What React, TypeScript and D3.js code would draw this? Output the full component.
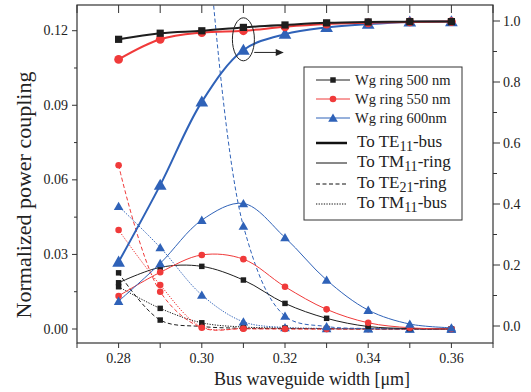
import React from "react";
import * as d3 from "d3";

// ---------- data ----------
const widths = [0.28, 0.29, 0.3, 0.31, 0.32, 0.33, 0.34, 0.35, 0.36];
const rings = ["Wg ring 500 nm", "Wg ring 550 nm", "Wg ring 600nm"];

// To TE11-bus (right axis)
const te11Bus500 = [0.94, 0.96, 0.968, 0.979, 0.987, 0.994, 0.997, 0.998, 0.998];
const te11Bus550 = [0.874, 0.94, 0.962, 0.968, 0.981, 0.99, 0.994, 0.997, 0.998];
const te11Bus600 = [0.21, 0.462, 0.735, 0.905, 0.957, 0.979, 0.99, 0.997, 0.998];

// To TM11-ring (left axis)
const tm11Ring500 = [0.0186, 0.0248, 0.0252, 0.0197, 0.0103, 0.0043, 0.001, 0.0002, 0.0];
const tm11Ring550 = [0.0133, 0.0228, 0.0298, 0.0281, 0.017, 0.0079, 0.0025, 0.0005, 0.0];
const tm11Ring600 = [0.0112, 0.0264, 0.0438, 0.0505, 0.0368, 0.0197, 0.0076, 0.002, 0.0005];

// To TE21-ring (left axis)
const te21Ring500 = [0.0226, 0.0036, 0.001, 0.0003, 0.0002, 0.0001, 0.0, 0.0, 0.0];
const te21Ring550 = [0.0659, 0.015, 0.0005, 0.0001, 0.0, 0.0, 0.0, 0.0, 0.0];
const te21Ring600 = [null, null, 0.19, 0.0414, 0.0052, 0.001, 0.0002, 0.0001, 0.0];

// To TM11-bus (left axis)
const tm11Bus500 = [0.017, 0.0083, 0.0025, 0.0008, 0.0004, 0.0002, 0.0001, 0.0, 0.0];
const tm11Bus550 = [0.0398, 0.0177, 0.0008, 0.0002, 0.0001, 0.0, 0.0, 0.0, 0.0];
const tm11Bus600 = [0.0494, 0.0328, 0.0137, 0.0029, 0.0006, 0.0002, 0.0001, 0.0, 0.0];

const xTicks = [0.28, 0.3, 0.32, 0.34, 0.36];
const xMinor = [0.27, 0.28, 0.29, 0.3, 0.31, 0.32, 0.33, 0.34, 0.35, 0.36, 0.37];
const yLeftTicks = [0.0, 0.03, 0.06, 0.09, 0.12];
const yLeftMinor = [0.015, 0.045, 0.075, 0.105];
const yRightTicks = [0.0, 0.2, 0.4, 0.6, 0.8, 1.0];
const yRightMinor = [0.1, 0.3, 0.5, 0.7, 0.9];

// ---------- style ----------
const W = 531;
const H = 392;
const M = { left: 77, right: 493, top: 5, bottom: 343 };
const colors = ["#1e1e1e", "#f03a3a", "#2f62b8"];
const symbols = [d3.symbolSquare, d3.symbolCircle, d3.symbolTriangle];
const FONT = "'Liberation Serif', 'Times New Roman', serif";

const x = d3.scaleLinear().domain([0.27, 0.37]).range([M.left, M.right]);
const yL = d3.scaleLinear().domain([-0.00563, 0.13034]).range([M.bottom, M.top]);
const yR = d3.scaleLinear().domain([-0.0557, 1.0525]).range([M.bottom, M.top]);

type Series = {
  values: (number | null)[];
  ring: number;
  kind: "te11" | "tm11r" | "te21" | "tm11b";
};

const series: Series[] = [
  { values: tm11Bus500, ring: 0, kind: "tm11b" },
  { values: tm11Bus550, ring: 1, kind: "tm11b" },
  { values: tm11Bus600, ring: 2, kind: "tm11b" },
  { values: te21Ring500, ring: 0, kind: "te21" },
  { values: te21Ring550, ring: 1, kind: "te21" },
  { values: te21Ring600, ring: 2, kind: "te21" },
  { values: tm11Ring500, ring: 0, kind: "tm11r" },
  { values: tm11Ring550, ring: 1, kind: "tm11r" },
  { values: tm11Ring600, ring: 2, kind: "tm11r" },
  { values: te11Bus600, ring: 2, kind: "te11" },
  { values: te11Bus550, ring: 1, kind: "te11" },
  { values: te11Bus500, ring: 0, kind: "te11" },
];

const dashFor = (k: string) =>
  k === "te21" ? "4,2.5" : k === "tm11b" ? "1.3,1.3" : undefined;
const widthFor = (k: string) => (k === "te11" ? 2 : 1);

function symbolPath(ring: number, big: boolean) {
  const sizes = big ? [52, 60, 70] : [30, 34, 40];
  return d3.symbol().type(symbols[ring]).size(sizes[ring])() as string;
}

const Sub = ({ base, sub, rest }: { base: string; sub: string; rest: string }) => (
  <>
    {base}
    <tspan dy={4} fontSize={14}>{sub}</tspan>
    <tspan dy={-4}>{rest}</tspan>
  </>
);

export default function App() {
  const lines = series.map((s, i) => {
    const yS = s.kind === "te11" ? yR : yL;
    const pts = widths
      .map((w, j) => [w, s.values[j]] as [number, number | null])
      .filter((p) => p[1] !== null) as [number, number][];
    const gen = d3
      .line<[number, number]>()
      .x((p) => x(p[0]))
      .y((p) => yS(p[1]))
      .curve(d3.curveCatmullRom.alpha(0.5));
    const big = s.kind === "te11";
    const sym = symbolPath(s.ring, big);
    return (
      <g key={i}>
        <path
          d={gen(pts) as string}
          fill="none"
          stroke={colors[s.ring]}
          strokeWidth={widthFor(s.kind)}
          strokeDasharray={dashFor(s.kind)}
        />
        {pts.map((p, j) => (
          <path
            key={j}
            d={sym}
            transform={`translate(${x(p[0])},${yS(p[1]) + (s.ring === 2 ? 1 : 0)})`}
            fill={colors[s.ring]}
          />
        ))}
      </g>
    );
  });

  const legX0 = 316;
  const legX1 = 350;
  const legRowsTop = [84, 103, 122];
  const legRowsBot = [147, 167, 188, 208];
  const styleRows = [
    { kind: "te11", label: <Sub base="To TE" sub="11" rest="-bus" /> },
    { kind: "tm11r", label: <Sub base="To TM" sub="11" rest="-ring" /> },
    { kind: "te21", label: <Sub base="To TE" sub="21" rest="-ring" /> },
    { kind: "tm11b", label: <Sub base="To TM" sub="11" rest="-bus" /> },
  ];

  const ex = x(0.31);
  const ey = yR(0.94);
  const ax0 = x(0.3126);
  const ax1 = x(0.3197);
  const ay = yR(0.897);

  return (
    <svg
      width={W}
      height={H}
      style={{ position: "absolute", left: 0, top: 0, background: "#fff" }}
      fontFamily={FONT}
    >
      <defs>
        <clipPath id="plotClip">
          <rect x={M.left} y={M.top} width={M.right - M.left} height={M.bottom - M.top} />
        </clipPath>
      </defs>
      <rect width={W} height={H} fill="#fff" />

      <g clipPath="url(#plotClip)">{lines}</g>

      {/* frame */}
      <rect
        x={M.left}
        y={M.top}
        width={M.right - M.left}
        height={M.bottom - M.top}
        fill="none"
        stroke="#333"
        strokeWidth={1.2}
      />

      {/* x ticks */}
      {xMinor.map((t, i) => (
        <g key={"xm" + i}>
          <line x1={x(t)} x2={x(t)} y1={M.top} y2={M.top + 8} stroke="#333" />
          <line x1={x(t)} x2={x(t)} y1={M.bottom} y2={M.bottom + 5} stroke="#333" />
        </g>
      ))}
      {xTicks.map((t, i) => (
        <text key={"xt" + i} x={x(t)} y={363} textAnchor="middle" fontSize={14} fill="#222">
          {t.toFixed(2)}
        </text>
      ))}

      {/* left ticks */}
      {yLeftTicks.map((t, i) => (
        <g key={"yl" + i}>
          <line x1={M.left - 5} x2={M.left} y1={yL(t)} y2={yL(t)} stroke="#333" />
          <text x={M.left - 9} y={yL(t) + 4.5} textAnchor="end" fontSize={14} fill="#222">
            {t.toFixed(2)}
          </text>
        </g>
      ))}
      {yLeftMinor.map((t, i) => (
        <line key={"ylm" + i} x1={M.left - 3} x2={M.left} y1={yL(t)} y2={yL(t)} stroke="#333" />
      ))}

      {/* right ticks */}
      {yRightTicks.map((t, i) => (
        <g key={"yr" + i}>
          <line x1={M.right} x2={M.right + 7} y1={yR(t)} y2={yR(t)} stroke="#333" />
          <text x={M.right + 10} y={yR(t) + 4.5} textAnchor="start" fontSize={14} fill="#222">
            {t.toFixed(1)}
          </text>
        </g>
      ))}
      {yRightMinor.map((t, i) => (
        <line key={"yrm" + i} x1={M.right} x2={M.right + 4} y1={yR(t)} y2={yR(t)} stroke="#333" />
      ))}

      {/* axis titles */}
      <text x={(M.left + M.right) / 2 + 27} y={385} textAnchor="middle" fontSize={18} fill="#222">
        Bus waveguide width [μm]
      </text>
      <text
        transform={`translate(31,${(M.top + M.bottom) / 2 + 21}) rotate(-90)`}
        textAnchor="middle"
        fontSize={22}
        fill="#222"
      >
        Normalized power coupling
      </text>

      {/* annotation ellipse and arrow */}
      <ellipse cx={ex} cy={ey} rx={11} ry={21.5} fill="none" stroke="#222" strokeWidth={1} />
      <line x1={ax0} x2={ax1 - 6} y1={ay} y2={ay} stroke="#222" strokeWidth={1} />
      <path d={`M${ax1},${ay} L${ax1 - 8},${ay - 3.5} L${ax1 - 8},${ay + 3.5} Z`} fill="#222" />

      {/* legend */}
      <rect x={304} y={67} width={158} height={153} fill="#fff" stroke="#333" strokeWidth={1} />
      {rings.map((r, i) => (
        <g key={"lr" + i}>
          <line x1={legX0} x2={legX1} y1={legRowsTop[i] - 4} y2={legRowsTop[i] - 4} stroke={colors[i]} strokeWidth={1} />
          <path
            d={symbolPath(i, false)}
            transform={`translate(${(legX0 + legX1) / 2},${legRowsTop[i] - 4 + (i === 2 ? 1 : 0)})`}
            fill={colors[i]}
          />
          <text x={355} y={legRowsTop[i] + 1} fontSize={14.5} fill="#222">
            {r}
          </text>
        </g>
      ))}
      {styleRows.map((r, i) => (
        <g key={"ls" + i}>
          <line
            x1={legX0}
            x2={legX0 + 31}
            y1={legRowsBot[i] - 4}
            y2={legRowsBot[i] - 4}
            stroke="#111"
            strokeWidth={r.kind === "te11" ? 2.5 : 1}
            strokeDasharray={dashFor(r.kind)}
          />
          <text x={357} y={legRowsBot[i]} fontSize={17} fill="#222">
            {r.label}
          </text>
        </g>
      ))}
    </svg>
  );
}
